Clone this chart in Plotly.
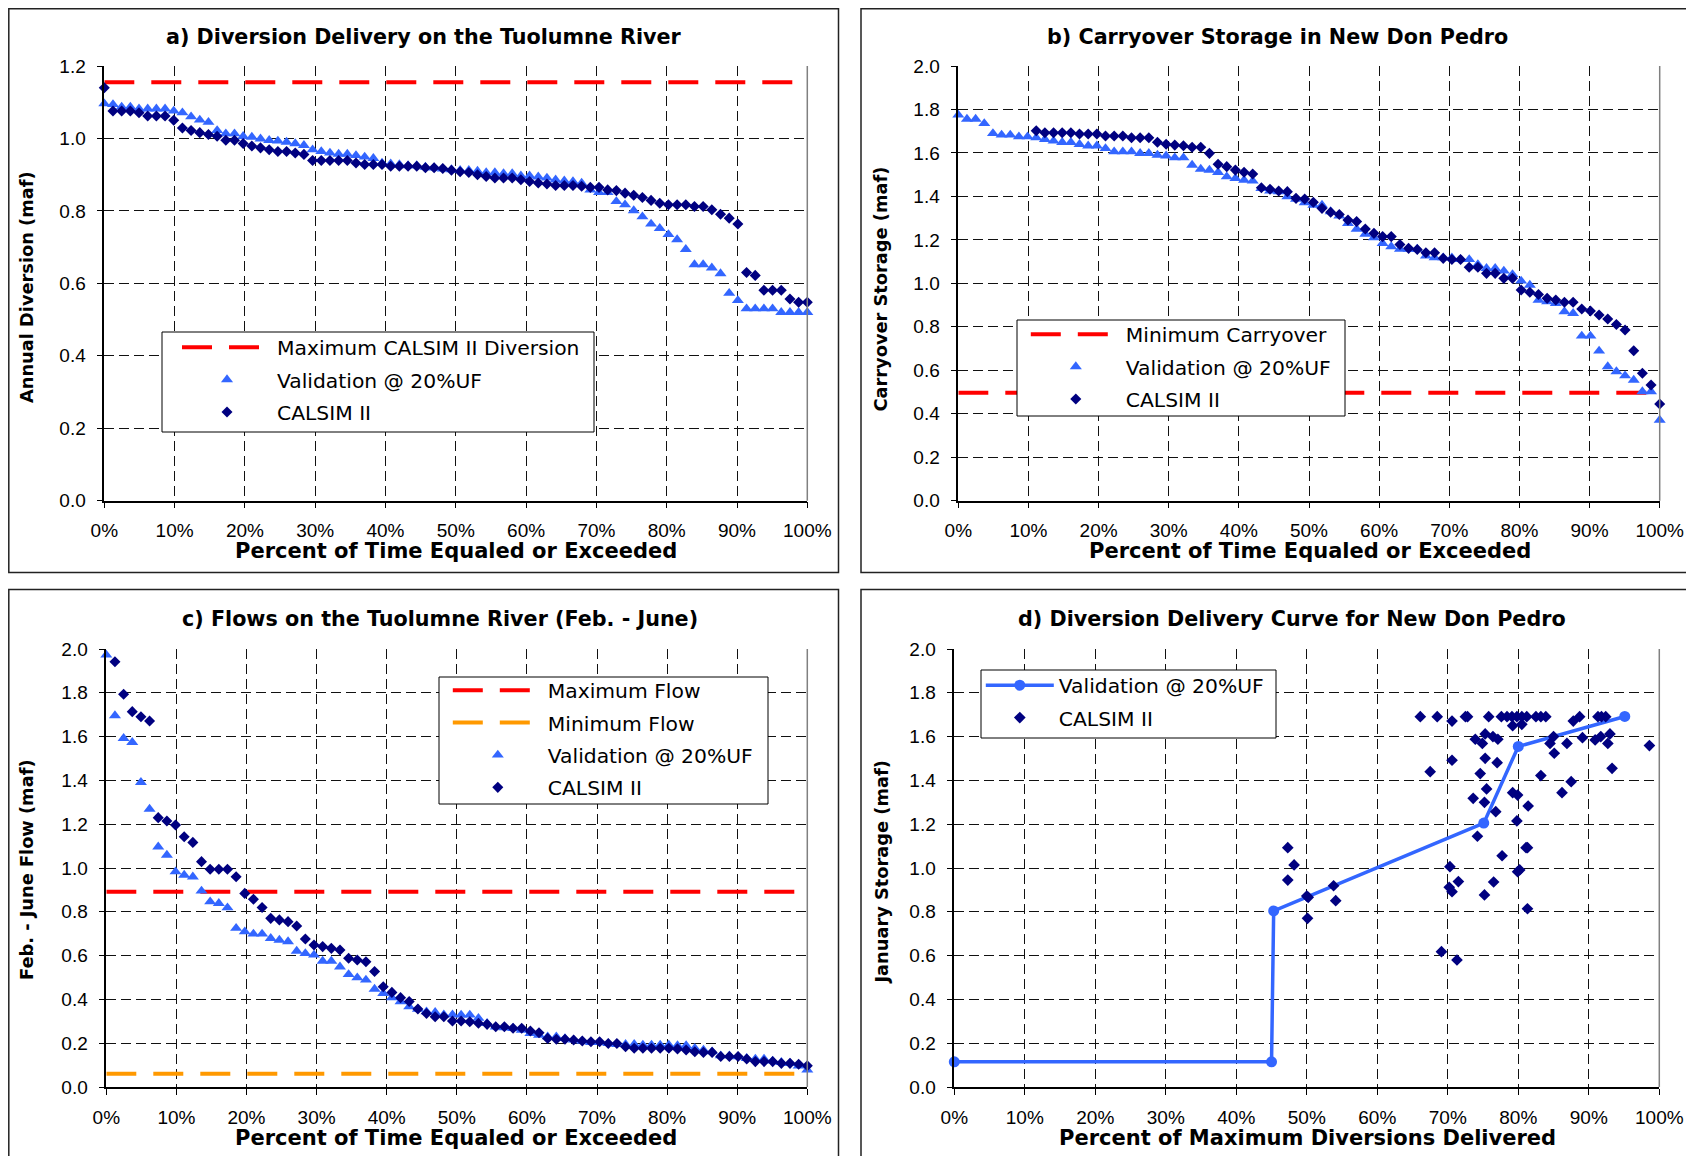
import plotly.graph_objects as go

FONT = "Liberation Sans, Arial, Helvetica, sans-serif"
BOLD_FONT = "DejaVu Sans, Verdana, sans-serif"
PAGE_W, PAGE_H = 1694, 1156
BODY_MARGIN = 8  # the html page body adds this offset on the top and left
W, H = PAGE_W - BODY_MARGIN, PAGE_H - BODY_MARGIN

# ---------------- data ----------------
N_YEARS = 82
exceed_pct = [100.0 * i / (N_YEARS - 1) for i in range(N_YEARS)]

pct_ticks = [0, 10, 20, 30, 40, 50, 60, 70, 80, 90, 100]
pct_labels = ["0%", "10%", "20%", "30%", "40%", "50%", "60%", "70%", "80%", "90%", "100%"]
y_ticks_a = [0.0, 0.2, 0.4, 0.6, 0.8, 1.0, 1.2]
y_ticks_bcd = [0.0, 0.2, 0.4, 0.6, 0.8, 1.0, 1.2, 1.4, 1.6, 1.8, 2.0]

# a) Diversion Delivery on the Tuolumne River (maf)
a_max_diversion = 1.155
a_validation = [1.096, 1.094, 1.087, 1.087, 1.082, 1.082, 1.082, 1.082, 1.076, 1.071,
                1.060, 1.051, 1.045, 1.022, 1.013, 1.013, 1.006, 1.004, 0.999, 0.995,
                0.993, 0.990, 0.986, 0.981, 0.969, 0.964, 0.960, 0.957, 0.957, 0.953,
                0.949, 0.945, 0.932, 0.930, 0.928, 0.925, 0.925, 0.921, 0.919, 0.916,
                0.914, 0.912, 0.912, 0.910, 0.906, 0.906, 0.903, 0.903, 0.897, 0.897,
                0.894, 0.891, 0.886, 0.883, 0.881, 0.877, 0.858, 0.851, 0.851, 0.826,
                0.817, 0.801, 0.784, 0.764, 0.752, 0.735, 0.721, 0.694, 0.652, 0.652,
                0.643, 0.627, 0.573, 0.553, 0.530, 0.530, 0.530, 0.530, 0.520, 0.520,
                0.520, 0.520]
a_calsim = [1.140, 1.076, 1.076, 1.076, 1.071, 1.062, 1.062, 1.062, 1.050, 1.029,
            1.022, 1.016, 1.011, 1.006, 0.995, 0.995, 0.986, 0.979, 0.974, 0.969,
            0.964, 0.964, 0.960, 0.956, 0.939, 0.939, 0.939, 0.939, 0.939, 0.932,
            0.928, 0.928, 0.928, 0.923, 0.923, 0.923, 0.923, 0.919, 0.919, 0.917,
            0.912, 0.908, 0.906, 0.900, 0.895, 0.891, 0.891, 0.891, 0.886, 0.881,
            0.877, 0.874, 0.870, 0.870, 0.870, 0.868, 0.865, 0.865, 0.858, 0.856,
            0.849, 0.843, 0.837, 0.829, 0.821, 0.817, 0.817, 0.817, 0.812, 0.812,
            0.803, 0.791, 0.780, 0.764, 0.630, 0.622, 0.581, 0.581, 0.581, 0.557,
            0.548, 0.548]

# b) Carryover Storage in New Don Pedro (maf)
b_min_carryover = 0.497
b_validation = [1.775, 1.756, 1.756, 1.736, 1.690, 1.683, 1.683, 1.675, 1.675, 1.670,
                1.663, 1.655, 1.649, 1.649, 1.640, 1.633, 1.633, 1.621, 1.606, 1.606,
                1.606, 1.598, 1.598, 1.590, 1.587, 1.578, 1.578, 1.544, 1.526, 1.521,
                1.511, 1.491, 1.483, 1.475, 1.471, 1.437, 1.425, 1.422, 1.399, 1.388,
                1.371, 1.360, 1.360, 1.330, 1.311, 1.276, 1.250, 1.227, 1.210, 1.184,
                1.169, 1.158, 1.158, 1.158, 1.126, 1.118, 1.118, 1.118, 1.110, 1.110,
                1.087, 1.069, 1.069, 1.057, 1.041, 1.011, 0.992, 0.923, 0.916, 0.908,
                0.870, 0.862, 0.758, 0.758, 0.689, 0.617, 0.594, 0.575, 0.555, 0.502,
                0.502, 0.371]
b_calsim_first_rank = 9
b_calsim = [1.702, 1.693, 1.693, 1.693, 1.693, 1.687, 1.687, 1.687, 1.678, 1.678,
            1.678, 1.670, 1.670, 1.670, 1.649, 1.640, 1.636, 1.633, 1.626, 1.626,
            1.598, 1.548, 1.537, 1.521, 1.511, 1.503, 1.440, 1.433, 1.425, 1.422,
            1.391, 1.388, 1.373, 1.345, 1.327, 1.317, 1.291, 1.284, 1.250, 1.230,
            1.215, 1.215, 1.179, 1.161, 1.156, 1.141, 1.141, 1.115, 1.110, 1.110,
            1.074, 1.074, 1.046, 1.046, 1.023, 1.023, 0.969, 0.959, 0.949, 0.931,
            0.923, 0.913, 0.913, 0.882, 0.873, 0.854, 0.836, 0.811, 0.785, 0.690,
            0.586, 0.532, 0.445]

# c) Flows on the Tuolumne River (Feb. - June) (maf)
c_max_flow = 0.892
c_min_flow = 0.061
c_validation = [1.973, 1.696, 1.592, 1.574, 1.391, 1.269, 1.097, 1.059, 0.983, 0.968,
                0.960, 0.895, 0.846, 0.839, 0.819, 0.725, 0.709, 0.699, 0.699, 0.679,
                0.671, 0.664, 0.621, 0.610, 0.603, 0.575, 0.575, 0.549, 0.514, 0.499,
                0.489, 0.447, 0.428, 0.408, 0.390, 0.367, 0.356, 0.344, 0.341, 0.330,
                0.330, 0.329, 0.329, 0.314, 0.291, 0.275, 0.271, 0.268, 0.260, 0.245,
                0.237, 0.230, 0.230, 0.222, 0.215, 0.210, 0.204, 0.204, 0.199, 0.195,
                0.195, 0.195, 0.192, 0.192, 0.192, 0.192, 0.189, 0.189, 0.177, 0.169,
                0.161, 0.143, 0.143, 0.139, 0.131, 0.128, 0.128, 0.119, 0.113, 0.108,
                0.097, 0.078]
c_calsim_first_rank = 1
c_calsim = [1.942, 1.793, 1.714, 1.691, 1.671, 1.230, 1.215, 1.196, 1.143, 1.117,
            1.029, 0.994, 0.994, 0.994, 0.960, 0.884, 0.857, 0.820, 0.770, 0.763,
            0.755, 0.735, 0.676, 0.648, 0.641, 0.633, 0.626, 0.588, 0.580, 0.572,
            0.527, 0.458, 0.432, 0.408, 0.390, 0.356, 0.336, 0.321, 0.321, 0.301,
            0.301, 0.298, 0.291, 0.286, 0.275, 0.275, 0.268, 0.268, 0.256, 0.248,
            0.222, 0.218, 0.218, 0.215, 0.210, 0.207, 0.207, 0.199, 0.199, 0.184,
            0.177, 0.177, 0.177, 0.177, 0.177, 0.174, 0.169, 0.161, 0.158, 0.158,
            0.139, 0.139, 0.139, 0.128, 0.116, 0.116, 0.116, 0.108, 0.108, 0.104,
            0.097]

# d) Diversion Delivery Curve for New Don Pedro
d_valid_pct = [0.0, 45.0, 45.3, 75.1, 80.0, 95.1]
d_valid_storage = [0.115, 0.115, 0.804, 1.205, 1.555, 1.692]
d_calsim_pct = [47.3, 48.2, 47.3, 50.0, 50.2, 53.8, 54.1, 50.1,
                66.1, 68.5, 70.6, 72.5, 72.8, 75.8, 77.6, 78.4, 79.1, 79.8, 80.5, 81.2,
                79.2, 80.5, 82.5, 83.2, 83.9, 87.8, 88.7, 91.3, 91.8, 92.4,
                67.5, 70.6, 73.9, 74.9, 75.3, 76.4, 77.1, 75.3, 77.0, 74.6, 75.5, 73.6,
                75.2, 76.8, 79.2, 79.9, 81.4, 79.8, 74.2, 81.1, 81.3, 77.7, 70.3, 71.5,
                70.2, 70.6, 76.5, 75.2, 79.9, 80.2, 81.3, 69.1, 71.3,
                84.5, 85.0, 85.1, 86.9, 89.1, 90.9, 91.7, 93.0, 92.7, 93.3, 83.2, 87.5,
                86.2, 98.6]
d_calsim_storage = [1.093, 1.014, 0.945, 0.872, 0.866, 0.919, 0.851, 0.770,
                    1.691, 1.691, 1.671, 1.691, 1.691, 1.691, 1.691, 1.691, 1.691, 1.691, 1.691, 1.691,
                    1.650, 1.656, 1.691, 1.691, 1.691, 1.671, 1.691, 1.691, 1.691, 1.691,
                    1.440, 1.492, 1.588, 1.569, 1.612, 1.600, 1.588, 1.501, 1.481, 1.431, 1.361, 1.318,
                    1.300, 1.257, 1.344, 1.333, 1.283, 1.215, 1.145, 1.093, 1.093, 1.056, 1.006, 0.938,
                    0.912, 0.892, 0.936, 0.877, 0.983, 0.991, 0.814, 0.618, 0.580,
                    1.569, 1.600, 1.524, 1.569, 1.595, 1.585, 1.600, 1.612, 1.569, 1.455, 1.422, 1.394,
                    1.344, 1.559]

# ---------------- styling ----------------
VAL_COLOR = "#3366FF"
CAL_COLOR = "#000080"
RED = "#FF0000"
ORANGE = "#FF9900"
REF_DASH = "30px,17px"

fig = go.Figure()


def ref_line(value, name, color, xa, ya, leg, grp):
    fig.add_trace(go.Scatter(x=[pct_ticks[0], pct_ticks[-1]], y=[value, value], mode="lines",
                             line=dict(color=color, width=4, dash=REF_DASH), name=name,
                             xaxis=xa, yaxis=ya, legend=leg, legendgroup=grp, hoverinfo="skip"))


def tri(x, y, xa, ya, leg, grp):
    fig.add_trace(go.Scatter(x=x, y=y, mode="markers", name="Validation @ 20%UF",
                             marker=dict(symbol="triangle-up", size=10.5, color=VAL_COLOR),
                             cliponaxis=False, xaxis=xa, yaxis=ya, legend=leg, legendgroup=grp))


def dia(x, y, xa, ya, leg, grp, size=8.5):
    fig.add_trace(go.Scatter(x=x, y=y, mode="markers", name="CALSIM II",
                             marker=dict(symbol="diamond", size=size, color=CAL_COLOR),
                             cliponaxis=False, xaxis=xa, yaxis=ya, legend=leg, legendgroup=grp))


# panel a
ref_line(a_max_diversion, "Maximum CALSIM II Diversion", RED, "x", "y", "legend", "a1")
tri(exceed_pct, a_validation, "x", "y", "legend", "a2")
dia(exceed_pct, a_calsim, "x", "y", "legend", "a3")

# panel b
ref_line(b_min_carryover, "Minimum Carryover", RED, "x2", "y2", "legend2", "b1")
tri(exceed_pct, b_validation, "x2", "y2", "legend2", "b2")
dia(exceed_pct[b_calsim_first_rank:], b_calsim, "x2", "y2", "legend2", "b3")

# panel c
ref_line(c_max_flow, "Maximum Flow", RED, "x3", "y3", "legend3", "c1")
ref_line(c_min_flow, "Minimum Flow", ORANGE, "x3", "y3", "legend3", "c2")
tri(exceed_pct, c_validation, "x3", "y3", "legend3", "c3")
dia(exceed_pct[c_calsim_first_rank:], c_calsim, "x3", "y3", "legend3", "c4")

# panel d
fig.add_trace(go.Scatter(x=d_valid_pct, y=d_valid_storage, mode="lines+markers",
                         name="Validation @ 20%UF",
                         line=dict(color=VAL_COLOR, width=3.5),
                         marker=dict(symbol="circle", size=11, color=VAL_COLOR),
                         cliponaxis=False, xaxis="x4", yaxis="y4", legend="legend4", legendgroup="d1"))
dia(d_calsim_pct, d_calsim_storage, "x4", "y4", "legend4", "d2", size=9)


# ---------------- layout helpers (page pixel -> paper fraction) ----------------
def px_x(v):
    return (v - BODY_MARGIN) / W


def px_y(v):
    return 1 - (v - BODY_MARGIN) / H


TICKFONT = dict(family=FONT, size=19, color="black")


def xaxis(domain, anchor):
    return dict(domain=domain, anchor=anchor, range=[0, 100], automargin=False,
                tickvals=pct_ticks, ticktext=pct_labels,
                showgrid=True, gridcolor="#111111", gridwidth=1, griddash="10px,5px",
                showline=True, linecolor="black", linewidth=1.5, zeroline=False,
                ticks="outside", ticklen=6, tickcolor="black", tickwidth=1,
                tickfont=TICKFONT, ticklabelstandoff=6, fixedrange=True)


def yaxis(domain, anchor, ticks):
    return dict(domain=domain, anchor=anchor, range=[ticks[0], ticks[-1]], automargin=False,
                tickvals=ticks, ticktext=["%.1f" % t for t in ticks],
                showgrid=True, gridcolor="#111111", gridwidth=1, griddash="10px,5px",
                showline=True, linecolor="black", linewidth=1.5, zeroline=False,
                ticks="outside", ticklen=6, tickcolor="black", tickwidth=1,
                tickfont=TICKFONT, ticklabelstandoff=7, fixedrange=True)


dom_a_x = [px_x(104.3), px_x(807.3)]
dom_b_x = [px_x(958.3), px_x(1659.7)]
dom_c_x = [px_x(106.3), px_x(807.3)]
dom_d_x = [px_x(954.3), px_x(1659.3)]
dom_top_y = [px_y(500.7), px_y(66)]
dom_bot_y = [px_y(1087), px_y(649)]


def legend_cfg(x_px, y_px, itemwidth):
    return dict(x=px_x(x_px), y=px_y(y_px), xanchor="left", yanchor="top",
                bgcolor="rgba(0,0,0,0)", borderwidth=0,
                font=dict(family=BOLD_FONT, size=20.3, color="black"),
                itemwidth=itemwidth, tracegroupgap=3)


shapes = []
# panel frames (left/top edges kept just inside the drawable page area)
for (x0, x1, y0, y1) in [(8.8, 838.5, 572.6, 8.8), (861, 1691, 572.6, 8.8),
                         (8.8, 838.5, 1162, 589.5), (861, 1691, 1162, 589.5)]:
    shapes.append(dict(type="rect", xref="paper", yref="paper", x0=px_x(x0), x1=px_x(x1),
                       y0=px_y(y0), y1=px_y(y1), line=dict(color="#222222", width=1.5),
                       fillcolor="rgba(0,0,0,0)", layer="above"))
# right border of plot areas
for ax in ["x", "x2", "x3", "x4"]:
    ya = ax.replace("x", "y")
    shapes.append(dict(type="line", xref=ax + " domain", yref=ya + " domain", x0=1, x1=1, y0=0, y1=1,
                       line=dict(color="#808080", width=1.5), layer="above"))
# legend boxes
for (x0, x1, y0, y1) in [(162, 594, 432, 332), (1017, 1345, 416, 320),
                         (439, 768, 804, 677), (981, 1276, 738, 670)]:
    shapes.append(dict(type="rect", xref="paper", yref="paper", x0=px_x(x0), x1=px_x(x1),
                       y0=px_y(y0), y1=px_y(y1), line=dict(color="black", width=1),
                       fillcolor="white", layer="above"))

annotations = []
# panel titles
for (txt, cx, cy) in [("a) Diversion Delivery on the Tuolumne River", 423.5, 36.7),
                      ("b) Carryover Storage in New Don Pedro", 1277.6, 36.7),
                      ("c) Flows on the Tuolumne River (Feb. - June)", 439.7, 619),
                      ("d) Diversion Delivery Curve for New Don Pedro", 1291.6, 619)]:
    annotations.append(dict(text="<b>" + txt + "</b>", xref="paper", yref="paper",
                            x=px_x(cx), y=px_y(cy), xanchor="center", yanchor="middle",
                            showarrow=False, font=dict(family=BOLD_FONT, size=20.7, color="black")))
# x-axis titles
for (txt, cx, cy) in [("Percent of Time Equaled or Exceeded", 456, 551),
                      ("Percent of Time Equaled or Exceeded", 1309.5, 551),
                      ("Percent of Time Equaled or Exceeded", 456, 1137.7),
                      ("Percent of Maximum Diversions Delivered", 1307, 1137.7)]:
    annotations.append(dict(text="<b>" + txt + "</b>", xref="paper", yref="paper",
                            x=px_x(cx), y=px_y(cy), xanchor="center", yanchor="middle",
                            showarrow=False, font=dict(family=BOLD_FONT, size=21, color="black")))
# y-axis titles
for (txt, cx, cy) in [("Annual Diversion (maf)", 26, 287),
                      ("Carryover Storage (maf)", 880.5, 289),
                      ("Feb. - June Flow (maf)", 26, 870),
                      ("January Storage (maf)", 880.5, 872)]:
    annotations.append(dict(text="<b>" + txt + "</b>", xref="paper", yref="paper",
                            x=px_x(cx), y=px_y(cy), xanchor="center", yanchor="middle",
                            textangle=-90, showarrow=False,
                            font=dict(family=BOLD_FONT, size=17.8, color="black")))

fig.update_layout(
    width=W, height=H, margin=dict(l=0, r=0, t=0, b=0, autoexpand=False),
    paper_bgcolor="white", plot_bgcolor="white",
    font=dict(family=FONT, color="black"),
    xaxis=xaxis(dom_a_x, "y"),
    yaxis=yaxis(dom_top_y, "x", y_ticks_a),
    xaxis2=xaxis(dom_b_x, "y2"),
    yaxis2=yaxis(dom_top_y, "x2", y_ticks_bcd),
    xaxis3=xaxis(dom_c_x, "y3"),
    yaxis3=yaxis(dom_bot_y, "x3", y_ticks_bcd),
    xaxis4=xaxis(dom_d_x, "y4"),
    yaxis4=yaxis(dom_bot_y, "x4", y_ticks_bcd),
    legend=legend_cfg(177, 327.5, 90),
    legend2=legend_cfg(1025.8, 314.5, 90),
    legend3=legend_cfg(447.8, 670.5, 90),
    legend4=legend_cfg(980.8, 665.5, 68),
    shapes=shapes,
    annotations=annotations,
    showlegend=True,
)

fig.write_html("out.html")
